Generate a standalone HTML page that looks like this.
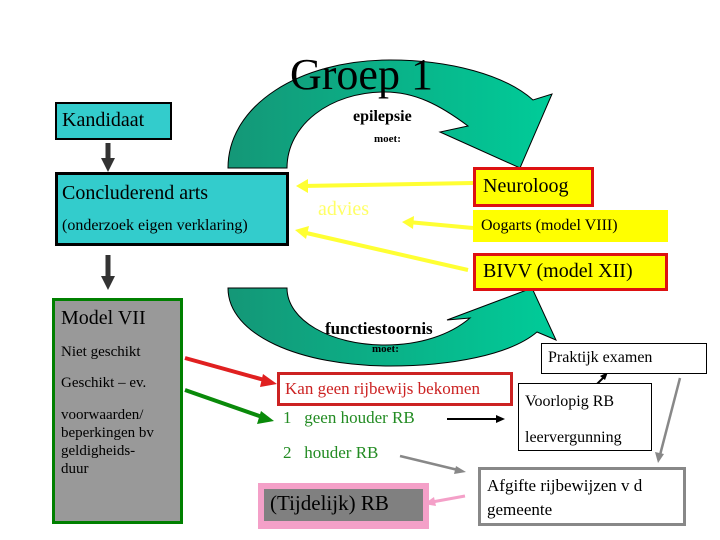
<!DOCTYPE html>
<html><head><meta charset="utf-8"><style>
body{margin:0;width:720px;height:540px;position:relative;background:#fff;font-family:"Liberation Serif",serif;overflow:hidden}
.a{position:absolute;box-sizing:border-box;white-space:nowrap}
</style></head><body>
<svg class="a" style="left:0;top:0" width="720" height="540">
<defs>
<linearGradient id="g" x1="0" x2="1" y1="0" y2="0"><stop offset="0" stop-color="#149777"/><stop offset="1" stop-color="#00cc99"/></linearGradient>
</defs>
<path d="M228,168 C228,105 300,60 390,60 C450,60 505,75 533,100 L552,94 L520,168 L440,132 L468,126 C440,105 415,92 385,92 C330,92 287,125 287,168 Z" fill="url(#g)" stroke="#000" stroke-width="1"/>
<path d="M228,288 L287,288 C287,320 330,345 385,345 C420,345 450,335 470,318 L447,320 L532,288 L556,340 L537,332 C510,355 450,366 390,366 C300,366 228,335 228,288 Z" fill="url(#g)" stroke="#000" stroke-width="1"/>
<g stroke-width="5" fill="none">
<line x1="108" y1="143" x2="108" y2="160" stroke="#333"/><path d="M101,158L108,172L115,158z" fill="#333" stroke="none"/>
<line x1="108" y1="255" x2="108" y2="278" stroke="#333"/><path d="M101,276L108,290L115,276z" fill="#333" stroke="none"/>
</g>
<g stroke="#ffff33" stroke-width="4">
<line x1="473" y1="183" x2="302" y2="186"/><path d="M296,186L308,179L308,193z" fill="#ffff33" stroke="none"/>
<line x1="473" y1="228" x2="408" y2="222"/><path d="M402,222L414,216L413,229z" fill="#ffff33" stroke="none"/>
<line x1="468" y1="270" x2="302" y2="232"/><path d="M295,230L309,226L306,239z" fill="#ffff33" stroke="none"/>
</g>
<line x1="185" y1="358" x2="268" y2="381" stroke="#e02020" stroke-width="4"/><path d="M277,384L263,374L260,387z" fill="#e02020"/>
<line x1="185" y1="390" x2="265" y2="418" stroke="#0a8a0a" stroke-width="4"/><path d="M274,421L261,411L257,424z" fill="#0a8a0a"/>
<line x1="447" y1="419" x2="498" y2="419" stroke="#000" stroke-width="2"/><path d="M505,419L496,415L496,423z" fill="#000"/>
<line x1="597" y1="384" x2="604" y2="377" stroke="#000" stroke-width="2"/><path d="M608,372L600,376L605,380z" fill="#000"/>
<line x1="680" y1="378" x2="660" y2="455" stroke="#888" stroke-width="2.5"/><path d="M658,463L655,452L664,454z" fill="#888"/>
<line x1="400" y1="456" x2="458" y2="470" stroke="#888" stroke-width="2.5"/><path d="M466,472L456,466L454,474z" fill="#888"/>
<line x1="465" y1="496" x2="432" y2="502" stroke="#f4a0c8" stroke-width="3"/><path d="M424,504L434,497L436,506z" fill="#f4a0c8"/>
</svg>
<div class="a" style="left:290px;top:50px;font-size:44px;line-height:50px">Groep 1</div>
<div class="a" style="left:55px;top:102px;width:117px;height:38px;background:#33cccc;border:2px solid #000;font-size:20px;padding:5px 0 0 5px">Kandidaat</div>
<div class="a" style="left:55px;top:172px;width:234px;height:74px;background:#33cccc;border:3px solid #000;padding-left:4px">
<div style="font-size:20px;margin-top:7px">Concluderend arts</div>
<div style="font-size:16px;margin-top:12px">(onderzoek eigen verklaring)</div></div>
<div class="a" style="left:52px;top:298px;width:131px;height:226px;background:#999;border:3px solid #008000;padding-left:6px;line-height:18px">
<div style="font-size:20px;margin-top:8px">Model VII</div>
<div style="font-size:15px;margin-top:16px">Niet geschikt</div>
<div style="font-size:15px;margin-top:13px">Geschikt – ev.</div>
<div style="font-size:15px;margin-top:14px">voorwaarden/<br>beperkingen bv<br>geldigheids-<br>duur</div></div>
<div class="a" style="left:353px;top:108px;font-size:16px;font-weight:bold">epilepsie</div>
<div class="a" style="left:374px;top:133px;font-size:11px;font-weight:bold">moet:</div>
<div class="a" style="left:318px;top:198px;font-size:20px;color:#ffff66">advies</div>
<div class="a" style="left:473px;top:167px;width:121px;height:40px;background:#ffff00;border:3px solid #dd1111;font-size:20px;padding:5px 0 0 7px">Neuroloog</div>
<div class="a" style="left:473px;top:210px;width:195px;height:32px;background:#ffff00;font-size:16px;padding:7px 0 0 8px">Oogarts (model VIII)</div>
<div class="a" style="left:473px;top:253px;width:195px;height:38px;background:#ffff00;border:3px solid #dd1111;font-size:20px;padding:4px 0 0 7px">BIVV (model XII)</div>
<div class="a" style="left:325px;top:319px;font-size:17px;font-weight:bold">functiestoornis</div>
<div class="a" style="left:372px;top:343px;font-size:11px;font-weight:bold">moet:</div>
<div class="a" style="left:277px;top:372px;width:236px;height:34px;border:3px solid #cc2222;background:#fff;font-size:17px;color:#cc2222;padding:4px 0 0 5px">Kan geen rijbewijs bekomen</div>
<div class="a" style="left:283px;top:408px;font-size:17px;color:#228b22">1&nbsp;&nbsp;&nbsp;geen houder RB</div>
<div class="a" style="left:283px;top:443px;font-size:17px;color:#228b22">2&nbsp;&nbsp;&nbsp;houder RB</div>
<div class="a" style="left:541px;top:343px;width:166px;height:31px;border:1px solid #000;background:#fff;font-size:16px;padding:5px 0 0 6px">Praktijk examen</div>
<div class="a" style="left:518px;top:383px;width:134px;height:68px;border:1px solid #000;background:#fff;font-size:16px;padding:0 0 0 6px;line-height:36px">Voorlopig RB<br>leervergunning</div>
<div class="a" style="left:478px;top:467px;width:208px;height:59px;border:3px solid #888;background:#fff;font-size:17px;padding:4px 0 0 6px;line-height:24px">Afgifte rijbewijzen v d<br>gemeente</div>
<div class="a" style="left:258px;top:483px;width:171px;height:46px;background:#f4a0c8;padding:6px"><div style="background:#808080;height:32px;font-size:21px;padding:2px 0 0 6px;box-sizing:border-box">(Tijdelijk) RB</div></div>
</body></html>
